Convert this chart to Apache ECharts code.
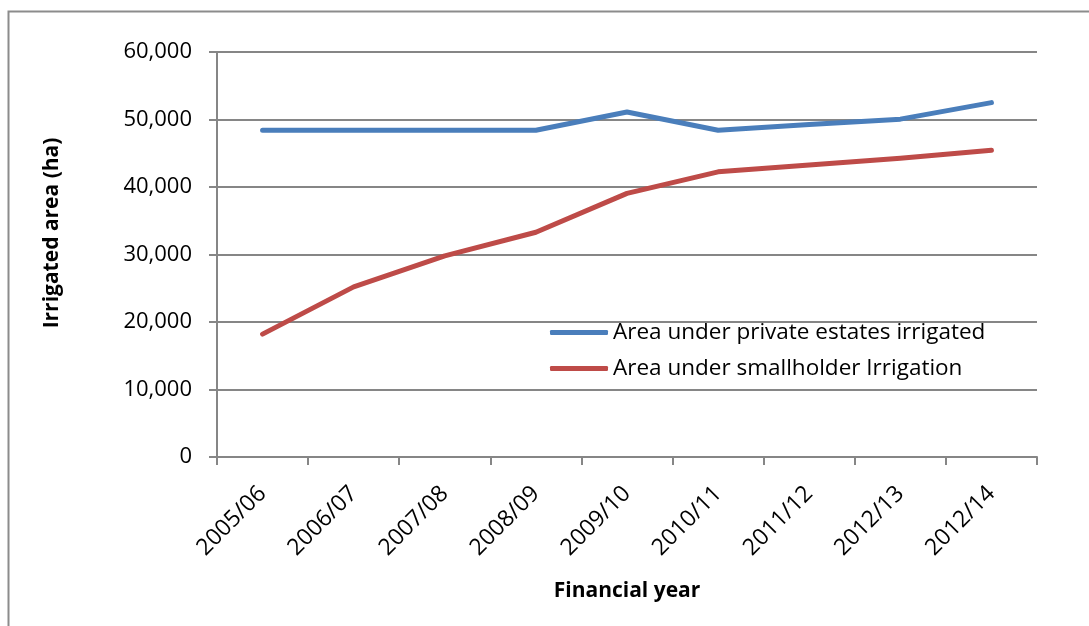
<!DOCTYPE html>
<html>
<head>
<meta charset="utf-8">
<script src="https://cdn.jsdelivr.net/npm/echarts@6/dist/echarts.min.js"></script>
<style>
  html, body { margin: 0; padding: 0; background: #ffffff; }
  #chart { width: 1089px; height: 626px; }
</style>
</head>
<body>
<div id="chart"></div>
<script>
// Financial years on the category axis
const years = ['2005/06', '2006/07', '2007/08', '2008/09', '2009/10', '2010/11', '2011/12', '2012/13', '2012/14'];

// Irrigated area in hectares
const privateEstates = [48400, 48400, 48400, 48400, 51100, 48400, 49250, 50050, 52500];
const smallholder = [18200, 25200, 29800, 33300, 39050, 42250, 43250, 44250, 45450];

const seriesNames = ['Area under private estates irrigated', 'Area under smallholder Irrigation'];
const seriesColors = ['#4A7EBB', '#BE4B48'];

const FONT = '"Open Sans", "Liberation Sans", sans-serif';
const GRID_GRAY = '#868686';

const chart = echarts.init(document.getElementById('chart'), null, { renderer: 'canvas' });

chart.setOption({
  animation: false,
  backgroundColor: '#ffffff',
  textStyle: { fontFamily: FONT },
  graphic: [
    {
      // outer chart-area frame (top and left edges fall inside the page)
      type: 'rect',
      shape: { x: 8.5, y: 11.5, width: 1200, height: 800 },
      style: { fill: 'none', stroke: '#8c8c8c', lineWidth: 2 },
      silent: true,
      z: -1
    },
    {
      // value-axis title
      type: 'text',
      x: 52,
      y: 233,
      rotation: Math.PI / 2,
      style: {
        text: 'Irrigated area (ha)',
        fontFamily: FONT,
        fontSize: 21,
        fontWeight: 'bold',
        fill: '#000000',
        align: 'center',
        verticalAlign: 'middle'
      },
      silent: true
    }
  ],
  grid: { left: 217, right: 52, top: 52, bottom: 169, containLabel: false, outerBoundsMode: 'none' },
  legend: {
    orient: 'vertical',
    left: 545,
    top: 316,
    itemWidth: 58,
    itemHeight: 5,
    itemGap: 13,
    icon: 'roundRect',
    textStyle: { fontFamily: FONT, fontSize: 22.5, color: '#000000' },
    data: seriesNames
  },
  xAxis: {
    type: 'category',
    data: years,
    boundaryGap: true,
    name: 'Financial year',
    nameLocation: 'middle',
    nameGap: 124,
    nameTextStyle: { fontFamily: FONT, fontSize: 21, fontWeight: 'bold', color: '#000000' },
    axisLine: { show: true, lineStyle: { color: GRID_GRAY, width: 2 } },
    axisTick: { show: true, alignWithLabel: false, length: 8, lineStyle: { color: GRID_GRAY, width: 2 } },
    axisLabel: { rotate: 45, margin: 33, fontFamily: FONT, fontSize: 23, color: '#000000', interval: 0 },
    splitLine: { show: false }
  },
  yAxis: {
    type: 'value',
    min: 0,
    max: 60000,
    interval: 10000,
    axisLine: { show: true, lineStyle: { color: GRID_GRAY, width: 2 } },
    axisTick: { show: true, length: 8, lineStyle: { color: GRID_GRAY, width: 2 } },
    axisLabel: {
      margin: 25,
      fontFamily: FONT,
      fontSize: 22,
      color: '#000000',
      formatter: v => v.toLocaleString('en-US')
    },
    splitLine: { show: true, lineStyle: { color: GRID_GRAY, width: 2 } }
  },
  series: [
    {
      name: seriesNames[0],
      type: 'line',
      data: privateEstates,
      symbol: 'none',
      color: seriesColors[0],
      lineStyle: { width: 5, color: seriesColors[0], cap: 'round', join: 'round' }
    },
    {
      name: seriesNames[1],
      type: 'line',
      data: smallholder,
      symbol: 'none',
      color: seriesColors[1],
      lineStyle: { width: 5, color: seriesColors[1], cap: 'round', join: 'round' }
    }
  ]
});
</script>
</body>
</html>
